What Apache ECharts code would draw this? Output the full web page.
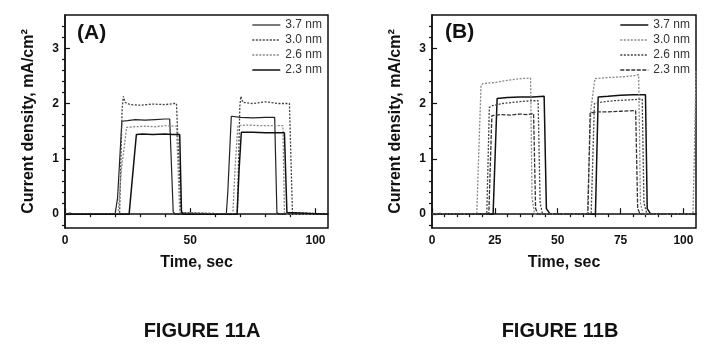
<!DOCTYPE html>
<html>
<head>
<meta charset="utf-8">
<script src="https://cdn.jsdelivr.net/npm/echarts@6/dist/echarts.min.js"></script>
<style>html,body{margin:0;padding:0;background:#fff}#c{width:715px;height:349px}</style>
</head>
<body>
<div id="c"></div>
<script>
// ---- data (time in sec, current density in mA/cm2) ----
const seriesNames = ['3.7 nm', '3.0 nm', '2.6 nm', '2.3 nm'];

// Figure 11A
const a37 = [[0,0],[2,0.02],[3,0],[20,0],[21,0.3],[22.7,1.68],[25,1.69],[28,1.71],[32,1.70],[36,1.71],[40,1.72],[41.8,1.72],[43.2,0.04],[44,0],[64.4,0],[65,0.4],[66.4,1.77],[70,1.75],[75,1.74],[80,1.75],[83.7,1.75],[84.6,0.03],[85.5,0],[105,0]];
const a30 = [[0,0],[21.8,0],[22.8,1.9],[23.3,2.13],[24,2.02],[26,1.98],[30,1.97],[35,1.99],[40,1.98],[43.5,2.0],[44.5,2.0],[46.3,0.03],[47,0],[68.8,0],[69.8,1.95],[70.2,2.13],[71,2.02],[75,2.0],[80,2.03],[85,2.0],[89.6,2.0],[90.8,0.03],[91.5,0],[105,0]];
const a26 = [[0,0],[21.2,0],[22.5,0.8],[24.6,1.57],[28,1.58],[32,1.59],[36,1.58],[40,1.60],[44.5,1.59],[45.8,0.03],[46.5,0],[67,0],[68,0.9],[69,1.60],[73,1.61],[78,1.60],[83,1.60],[87,1.60],[87.6,0.03],[88.5,0],[105,0]];
const a23 = [[0,0],[25.6,0],[27,0.7],[28.5,1.44],[31,1.45],[35,1.44],[40,1.45],[43,1.44],[45.8,1.44],[46.5,0.05],[47.1,0],[68.7,0],[69.5,0.8],[70.4,1.48],[75,1.48],[80,1.47],[85,1.47],[87.6,1.47],[88.6,0.03],[89.3,0],[105,0]];

// Figure 11B
const b37 = [[0,0],[24.3,0],[25.9,2.09],[30,2.11],[35,2.12],[40,2.12],[44.6,2.13],[45.5,0.1],[47,0],[65,0],[66.1,2.12],[70,2.13],[75,2.15],[80,2.16],[84.9,2.16],[85.6,0.1],[87,0],[105,0]];
const b30 = [[0,0],[3,0.02],[5,0],[17.8,0],[19.5,2.33],[20.3,2.36],[25,2.38],[30,2.42],[35,2.45],[39.2,2.46],[39.8,0.3],[40.8,0],[61.8,0],[63.2,1.9],[64.8,2.45],[70,2.47],[75,2.48],[80,2.5],[82.2,2.52],[82.9,0.2],[84,0],[103.8,0],[104.5,1.4],[105,2.6]];
const b26 = [[0,0],[21.8,0],[22.8,1.93],[24,1.96],[28,2.0],[32,2.02],[36,2.04],[40,2.05],[42.2,2.05],[43,0.2],[44,0],[63.3,0],[64.6,2.0],[68,2.03],[72,2.05],[76,2.06],[80,2.07],[83.6,2.08],[84.3,0.2],[85.5,0],[105,0]];
const b23 = [[0,0],[22.6,0],[23.8,1.78],[27,1.80],[31,1.79],[35,1.81],[38,1.80],[40.4,1.82],[41.2,0.1],[42.2,0],[62,0],[62.9,1.83],[66,1.85],[70,1.85],[75,1.86],[80,1.87],[81,1.87],[81.8,0.1],[82.8,0],[105,0]];

// ticks
const yMajor = [0, 1, 2, 3];
const yMinor = [-0.2,0.2,0.4,0.6,0.8,1.2,1.4,1.6,1.8,2.2,2.4,2.6,2.8,3.2,3.4];
const xMajorA = [0, 50, 100];
const xMinorA = [10,20,30,40,60,70,80,90];
const xMajorB = [0, 25, 50, 75, 100];
const xMinorB = [5,10,15,20,30,35,40,45,55,60,65,70,80,85,90,95];

// ---- chart ----
const FONT = 'Liberation Sans, Arial, sans-serif';
const chart = echarts.init(document.getElementById('c'), null, {renderer: 'canvas'});

const grids = [
  {left: 65, right: 387, top: 15, bottom: 121},
  {left: 432, right: 19, top: 15, bottom: 121}
];

function xAxes(gi, major, minor) {
  const base = {gridIndex: gi, type: 'value', min: 0, max: 105, splitLine: {show: false}};
  return [
    Object.assign({}, base, {
      name: 'Time, sec', nameLocation: 'middle', nameGap: 27,
      nameTextStyle: {fontFamily: FONT, fontWeight: 'bold', fontSize: 16, color: '#111'},
      axisLine: {show: true, lineStyle: {color: '#111', width: 1.5}},
      axisTick: {show: true, inside: true, length: 6, customValues: major, lineStyle: {color: '#111', width: 1.2}},
      axisLabel: {show: true, customValues: major, margin: 7, fontFamily: FONT, fontWeight: 'bold', fontSize: 12, color: '#111'}
    }),
    Object.assign({}, base, {
      axisLine: {show: false},
      axisTick: {show: true, inside: true, length: 3, customValues: minor, lineStyle: {color: '#111', width: 1.2}},
      axisLabel: {show: false}
    })
  ];
}
function yAxes(gi) {
  const base = {gridIndex: gi, type: 'value', min: -0.25, max: 3.6, splitLine: {show: false}};
  return [
    Object.assign({}, base, {
      name: 'Current density, mA/cm\u00B2', nameLocation: 'middle', nameGap: 28, nameRotate: 90,
      nameTextStyle: {fontFamily: FONT, fontWeight: 'bold', fontSize: 16, color: '#111'},
      axisLine: {show: true, lineStyle: {color: '#111', width: 1.5}},
      axisTick: {show: true, inside: true, length: 5, customValues: yMajor, lineStyle: {color: '#111', width: 1.2}},
      axisLabel: {show: true, customValues: yMajor, margin: 6, fontFamily: FONT, fontWeight: 'bold', fontSize: 12, color: '#111'}
    }),
    Object.assign({}, base, {
      axisLine: {show: false},
      axisTick: {show: true, inside: true, length: 3, customValues: yMinor, lineStyle: {color: '#111', width: 1.2}},
      axisLabel: {show: false}
    })
  ];
}

const styleA = [
  {color: '#222', width: 1.2, type: 'solid'},
  {color: '#444', width: 1.3, type: [2, 1.5]},
  {color: '#888', width: 1.3, type: [2, 1.5]},
  {color: '#111', width: 1.5, type: 'solid'}
];
const styleB = [
  {color: '#111', width: 1.5, type: 'solid'},
  {color: '#888', width: 1.3, type: [2, 1.5]},
  {color: '#444', width: 1.3, type: [2, 1.5]},
  {color: '#333', width: 1.3, type: [4, 1.5]}
];
const dataA = [a37, a30, a26, a23];
const dataB = [b37, b30, b26, b23];

const series = [];
seriesNames.forEach((n, i) => {
  series.push({name: n, type: 'line', xAxisIndex: 0, yAxisIndex: 0, data: dataA[i], symbol: 'none', lineStyle: styleA[i], itemStyle: {color: styleA[i].color}, z: 3});
});
seriesNames.forEach((n, i) => {
  series.push({name: n, type: 'line', xAxisIndex: 2, yAxisIndex: 2, data: dataB[i], symbol: 'none', lineStyle: styleB[i], itemStyle: {color: styleB[i].color}, z: 3});
});

function legend(right, styles) {
  return {
    orient: 'vertical', right: right, top: 19, itemGap: 3, itemWidth: 28, itemHeight: 12,
    padding: 0, selectedMode: false, align: 'left',
    itemStyle: {opacity: 0},
    textStyle: {fontFamily: FONT, fontSize: 12, color: '#333'},
    data: seriesNames.map((n, i) => ({
      name: n,
      lineStyle: {color: styles[i].color, width: styles[i].width, type: styles[i].type}
    }))
  };
}

chart.setOption({
  animation: false,
  backgroundColor: '#fff',
  grid: grids.map(g => Object.assign({show: true, borderColor: '#111', borderWidth: 1.5, backgroundColor: 'transparent'}, g)),
  xAxis: [].concat(xAxes(0, xMajorA, xMinorA), xAxes(1, xMajorB, xMinorB)),
  yAxis: [].concat(yAxes(0), yAxes(1)),
  legend: [legend(393, styleA), legend(25, styleB)],
  title: [
    {text: 'FIGURE 11A', left: 197, top: 316, textAlign: 'center', textStyle: {fontFamily: FONT, fontWeight: 'bold', fontSize: 20, color: '#111'}},
    {text: 'FIGURE 11B', left: 555, top: 316, textAlign: 'center', textStyle: {fontFamily: FONT, fontWeight: 'bold', fontSize: 20, color: '#111'}}
  ],
  graphic: [
    {type: 'text', left: 77, top: 23, style: {text: '(A)', font: 'bold 21px ' + FONT, fill: '#111'}},
    {type: 'text', left: 445, top: 22, style: {text: '(B)', font: 'bold 21px ' + FONT, fill: '#111'}}
  ],
  series: series
});
</script>
</body>
</html>
